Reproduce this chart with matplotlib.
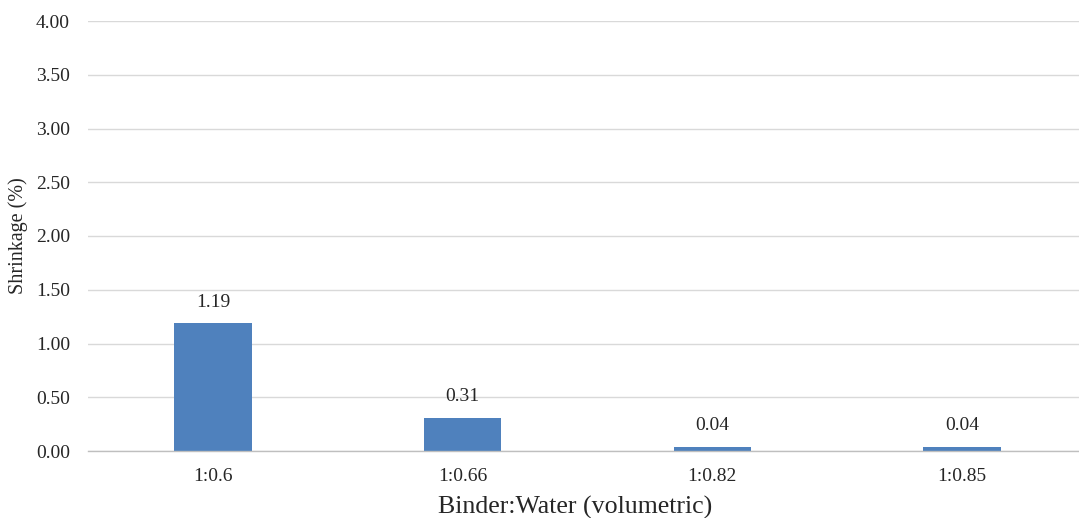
import matplotlib
matplotlib.use("Agg")
import matplotlib.pyplot as plt

categories = ["1:0.6", "1:0.66", "1:0.82", "1:0.85"]
shrinkage = [1.19, 0.31, 0.04, 0.04]
yticks = [0.0, 0.5, 1.0, 1.5, 2.0, 2.5, 3.0, 3.5, 4.0]

plt.rcParams['font.family'] = ['Liberation Serif', 'DejaVu Serif']
txt = '#262626'

fig = plt.figure(figsize=(10.79, 5.18), dpi=100)
ax = fig.add_axes([88/1079, 1-451/518, 999/1079, (451-21)/518])

x = list(range(len(categories)))
ax.bar(x, shrinkage, width=0.31, color='#4F81BD', zorder=3)
for xi, v in zip(x, shrinkage):
    ax.annotate(f"{v:.2f}", (xi, v), xytext=(0, 9), textcoords='offset points',
                ha='center', va='bottom', fontsize=14, color=txt)

ax.set_xlim(-0.5, len(categories) - 0.5)
ax.set_ylim(0, 4.0)
ax.set_yticks(yticks)
ax.set_yticklabels([f"{t:.2f}" for t in yticks])
ax.set_xticks(x)
ax.set_xticklabels(categories)
ax.tick_params(axis='y', length=0, pad=13, labelsize=14, labelcolor=txt)
ax.tick_params(axis='x', length=0, pad=12.5, labelsize=14, labelcolor=txt)
ax.grid(axis='y', color='#D9D9D9', linewidth=1, zorder=0)
for s in ['top', 'right', 'left']:
    ax.spines[s].set_visible(False)
ax.spines['bottom'].set_color('#BFBFBF')
ax.spines['bottom'].set_linewidth(1)
ax.spines['bottom'].set_zorder(4)

fig.text(575/1079, 1-514/518, "Binder:Water (volumetric)", ha='center', va='baseline',
         fontsize=18.6, color=txt)
fig.text(18/1079, 1-236/518, "Shrinkage (%)", rotation=90, ha='center', va='center',
         fontsize=14.5, color=txt)

fig.savefig("out.png", dpi=100)
